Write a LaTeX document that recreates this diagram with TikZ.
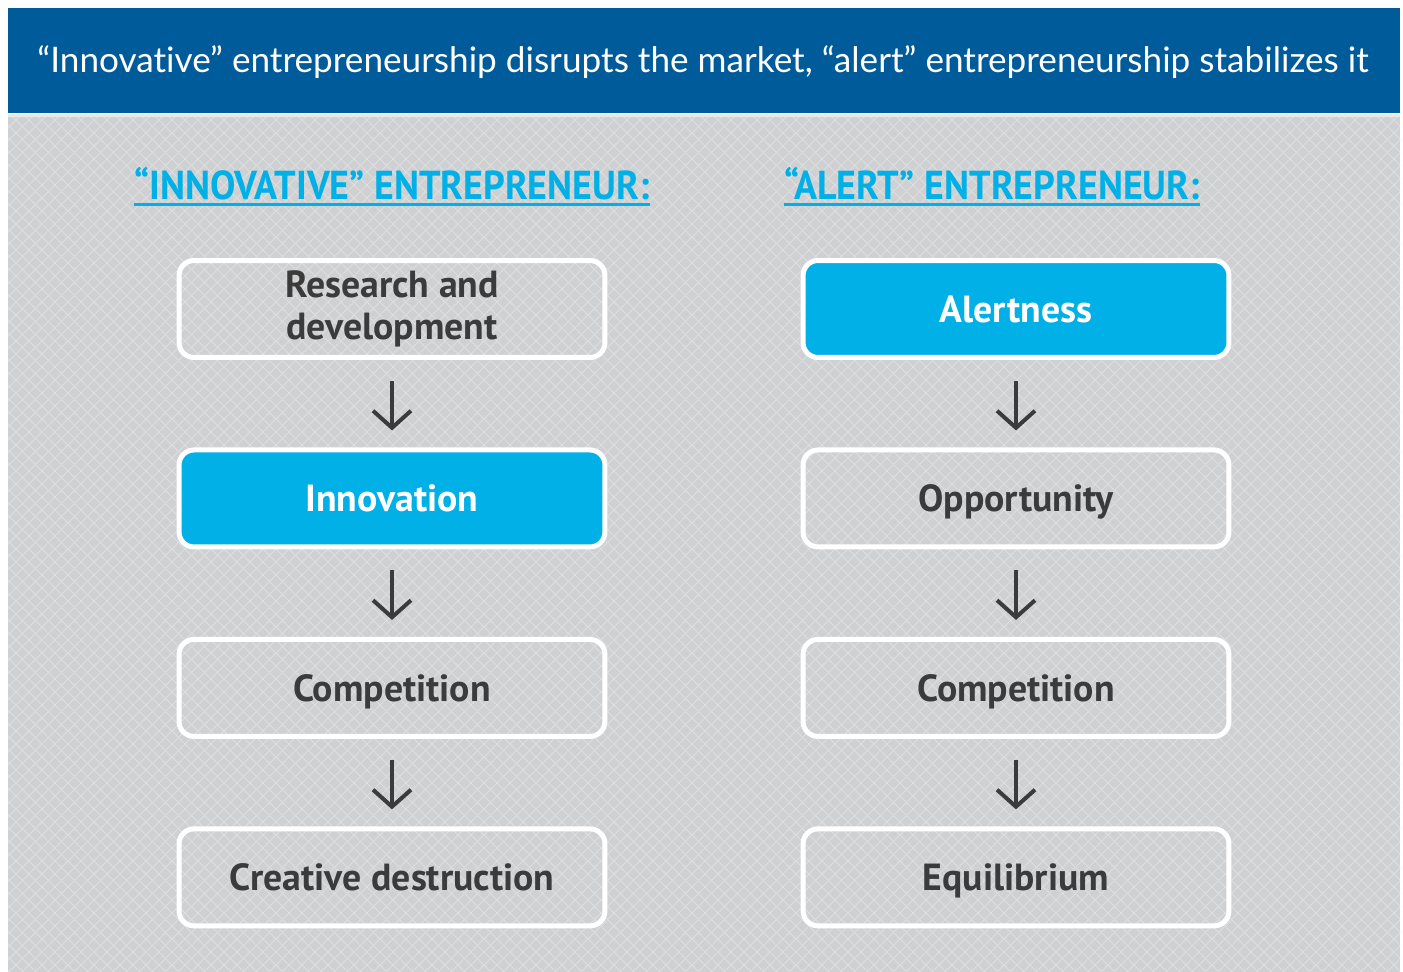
\documentclass[tikz,border=0pt]{standalone}
\usepackage{fontspec}
\setmainfont{Lato}[Ligatures=NoCommon]
\newfontfamily\boxfont{PT Sans}
\newfontfamily\titlefont[FakeStretch=0.94]{PT Sans}
\usetikzlibrary{arrows.meta,positioning}

\definecolor{headblue}{HTML}{005B9A}
\definecolor{panelgray}{HTML}{CFD0D2}
\definecolor{hatchgray}{HTML}{DDDEE0}
\definecolor{cyanbox}{HTML}{00B0E6}
\definecolor{textdark}{HTML}{3B3B3B}

\tikzset{
  stagebox/.style={draw=white, line width=0.1cm, rounded corners=0.3cm,
    minimum width=8.52cm, minimum height=1.94cm, align=center,
    text height=15pt, text depth=0pt,
    text=textdark, font=\boxfont\bfseries\fontsize{21.5}{24}\selectfont},
  keybox/.style={stagebox, fill=cyanbox, text=white},
  flowarrow/.style={draw=textdark, line width=0.08cm,
    -{Straight Barb[length=0.34cm, width=0.76cm]},
    shorten <=0.42cm, shorten >=0.34cm},
  coltitle/.style={text=cyanbox, inner sep=0pt, anchor=base,
    font=\titlefont\bfseries\fontsize{23}{26}\selectfont}
}

\begin{document}
\begin{tikzpicture}[x=0.02cm, y=-0.02cm, node distance=1.75cm]
  \useasboundingbox (0,0) rectangle (1403,972);

  % header band
  \fill[headblue] (8,8) rectangle (1400,113);
  \node[text=white, font=\fontsize{20}{24}\selectfont] (head) at (703,62)
    {“Innovative” entrepreneurship disrupts the market, “alert” entrepreneurship stabilizes it};

  % hatched panel
  \fill[panelgray] (8,115) rectangle (1400,972);
  \begin{scope}
    \clip (8,115) rectangle (1400,972);
    \foreach \i in {-860,-847,...,1400} {
      \draw[hatchgray, line width=0.5pt] (\i,115) -- (\i+860,975);
    }
    \foreach \i in {8,21,...,2270} {
      \draw[hatchgray, line width=0.5pt] (\i,115) -- (\i-860,975);
    }
  \end{scope}
  \draw[hatchgray!70!white, line width=0.06cm] (8,116) -- (1400,116);

  % column titles
  \node[coltitle] (innotitle) at (392,200) {“INNOVATIVE” ENTREPRENEUR:};
  \node[coltitle] (alerttitle) at (992,200) {“ALERT” ENTREPRENEUR:};
  \draw[cyanbox, line width=0.06cm] ([yshift=-0.1cm]innotitle.base west) -- ([yshift=-0.1cm]innotitle.base east);
  \draw[cyanbox, line width=0.06cm] ([yshift=-0.1cm]alerttitle.base west) -- ([yshift=-0.1cm]alerttitle.base east);

  % innovative chain
  \node[stagebox, text height={}, text depth={}] (rnd) at (392,309) {Research and\\development};
  \node[keybox, below=of rnd] (innov) {Innovation};
  \node[stagebox, below=of innov] (compL) {Competition};
  \node[stagebox, below=of compL] (destr) {Creative destruction};

  % alert chain
  \node[keybox] (alert) at (1016,309) {Alertness};
  \node[stagebox, below=of alert] (oppor) {Opportunity};
  \node[stagebox, below=of oppor] (compR) {Competition};
  \node[stagebox, below=of compR] (equil) {Equilibrium};

  \draw[flowarrow] (rnd) -- (innov);
  \draw[flowarrow] (innov) -- (compL);
  \draw[flowarrow] (compL) -- (destr);
  \draw[flowarrow] (alert) -- (oppor);
  \draw[flowarrow] (oppor) -- (compR);
  \draw[flowarrow] (compR) -- (equil);
\end{tikzpicture}
\end{document}
